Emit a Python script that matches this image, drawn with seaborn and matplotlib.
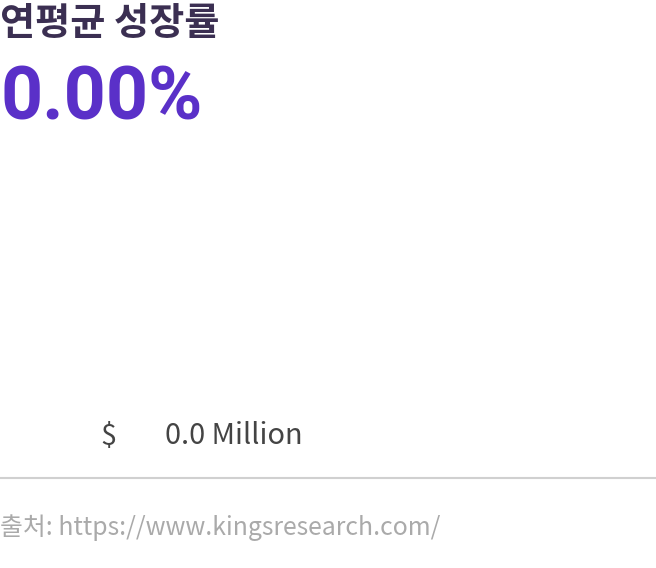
import matplotlib
matplotlib.use("Agg")
import matplotlib.pyplot as plt
import seaborn as sns
import pandas as pd

# Data
title_text = "연평균 성장률"
cagr_values = [0.00]
currency = ["$"]
market_values = [0.0]
value_unit = "Million"
source_text = "출처: https://www.kingsresearch.com/"

sns.set_theme(style="white")
plt.rcParams['font.family'] = ['Noto Sans CJK KR', 'DejaVu Sans']

W, H = 656, 568
fig = plt.figure(figsize=(W / 100, H / 100), dpi=100)

# invisible chart area (zero-valued bar drawn through seaborn)
ax = fig.add_axes([0.0, 0.25, 1.0, 0.45])
df = pd.DataFrame({"cat": ["value"], "val": market_values})
sns.barplot(data=df, x="cat", y="val", ax=ax, color="#5b2fc9")
ax.set_ylim(0, 1)
ax.axis("off")

def fx(px):
    return px / W

def fy(py):
    return 1 - py / H

fig.text(fx(0), fy(23), title_text, fontsize=27.5, fontweight="bold",
         color="#3b2f52", ha="left", va="center")
fig.text(fx(0), fy(100), f"{cagr_values[0]:.2f}%", fontsize=53, fontweight="bold",
         color="#5a30c8", ha="left", va="center",
         family=["Liberation Sans Narrow", "Roboto", "DejaVu Sans"])
fig.text(fx(100), fy(436), currency[0], fontsize=20.8, color="#444444",
         ha="left", va="center")
fig.text(fx(165), fy(436), f"{market_values[0]:.1f} {value_unit}", fontsize=20.8,
         color="#444444", ha="left", va="center")
fig.add_artist(plt.Line2D([0, 1], [fy(478), fy(478)], transform=fig.transFigure,
                          color="#d0d0d0", linewidth=1.5))
fig.text(fx(0), fy(528), source_text, fontsize=17.9, color="#aaaaaa",
         ha="left", va="center")

fig.savefig("out.png", dpi=100)
